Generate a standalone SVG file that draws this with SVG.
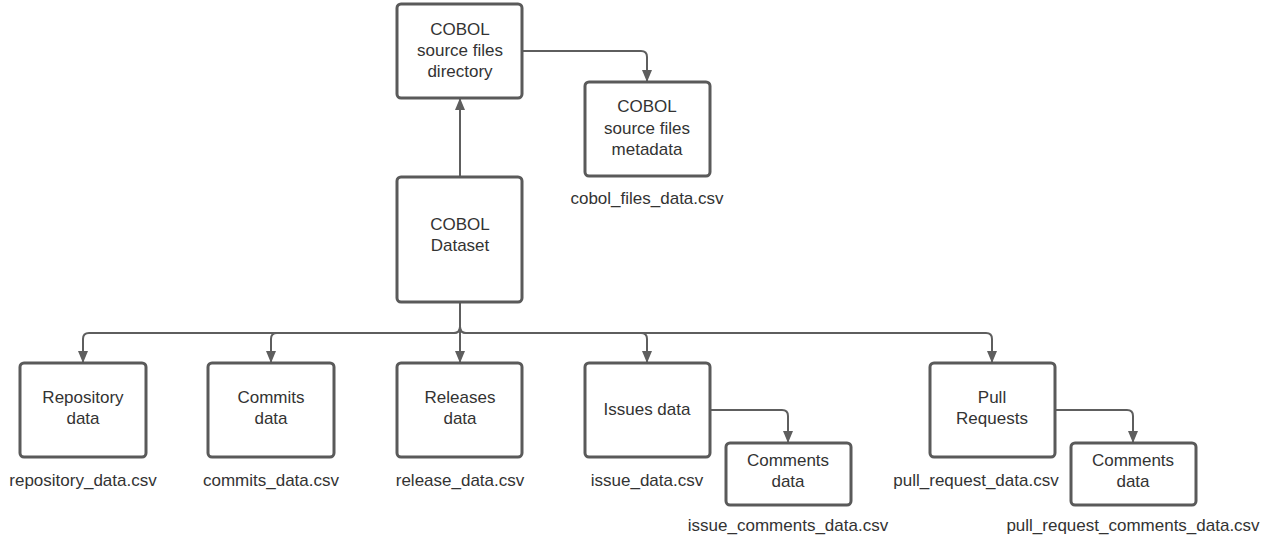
<svg xmlns="http://www.w3.org/2000/svg" width="1278" height="539" viewBox="0 0 1278 539">
<defs>
<style>
.box{fill:#ffffff;stroke:#5a5a5a;stroke-width:3}
.edge{fill:none;stroke:#5e5e5e;stroke-width:2}
text{font-family:"Liberation Sans",Arial,sans-serif;font-size:17px;fill:#333333;text-anchor:middle}
</style>
<marker id="arr" viewBox="0 0 12 12" refX="11" refY="6" markerWidth="12" markerHeight="12" markerUnits="userSpaceOnUse" orient="auto">
<path d="M0 1 L12 6 L0 11 Z" fill="#5e5e5e"/>
</marker>
</defs>
<rect width="1278" height="539" fill="#ffffff"/>
<g id="connectors">
<path class="edge" d="M460 177 V99" marker-end="url(#arr)"/>
<path class="edge" d="M523 51 H641 Q647 51 647 57 V81" marker-end="url(#arr)"/>
<path class="edge" d="M460 302 V327 Q460 333 454 333 H89 Q83 333 83 339 V362" marker-end="url(#arr)"/>
<path class="edge" d="M460 302 V327 Q460 333 454 333 H277 Q271 333 271 339 V362" marker-end="url(#arr)"/>
<path class="edge" d="M460 302 V362" marker-end="url(#arr)"/>
<path class="edge" d="M460 302 V327 Q460 333 466 333 H641 Q647 333 647 339 V362" marker-end="url(#arr)"/>
<path class="edge" d="M460 302 V327 Q460 333 466 333 H986 Q992 333 992 339 V362" marker-end="url(#arr)"/>
<path class="edge" d="M711 410 H782 Q788 410 788 416 V442" marker-end="url(#arr)"/>
<path class="edge" d="M1056 410 H1127 Q1133 410 1133 416 V442" marker-end="url(#arr)"/>
</g>
<g id="node-directory">
<rect class="box" x="397" y="4" width="125" height="94" rx="4"/>
<text x="460" y="35">COBOL</text>
<text x="460" y="56">source files</text>
<text x="460" y="77">directory</text>
</g>
<g id="node-metadata">
<rect class="box" x="585" y="82" width="125" height="94" rx="4"/>
<text x="647" y="112">COBOL</text>
<text x="647" y="134">source files</text>
<text x="647" y="155">metadata</text>
<text x="647" y="204">cobol_files_data.csv</text>
</g>
<g id="node-dataset">
<rect class="box" x="397" y="177" width="125" height="125" rx="4"/>
<text x="460" y="230">COBOL</text>
<text x="460" y="251">Dataset</text>
</g>
<g id="node-repository">
<rect class="box" x="20" y="363" width="126" height="94" rx="4"/>
<text x="83" y="403">Repository</text>
<text x="83" y="424">data</text>
<text x="83" y="486">repository_data.csv</text>
</g>
<g id="node-commits">
<rect class="box" x="208" y="363" width="126" height="94" rx="4"/>
<text x="271" y="403">Commits</text>
<text x="271" y="424">data</text>
<text x="271" y="486">commits_data.csv</text>
</g>
<g id="node-releases">
<rect class="box" x="397" y="363" width="125" height="94" rx="4"/>
<text x="460" y="403">Releases</text>
<text x="460" y="424">data</text>
<text x="460" y="486">release_data.csv</text>
</g>
<g id="node-issues">
<rect class="box" x="585" y="363" width="125" height="94" rx="4"/>
<text x="647" y="415">Issues data</text>
<text x="647" y="486">issue_data.csv</text>
</g>
<g id="node-issue-comments">
<rect class="box" x="726" y="443" width="125" height="62" rx="4"/>
<text x="788" y="466">Comments</text>
<text x="788" y="487">data</text>
<text x="788" y="531">issue_comments_data.csv</text>
</g>
<g id="node-pull-requests">
<rect class="box" x="930" y="363" width="125" height="94" rx="4"/>
<text x="992" y="403">Pull</text>
<text x="992" y="424">Requests</text>
<text x="976" y="486">pull_request_data.csv</text>
</g>
<g id="node-pr-comments">
<rect class="box" x="1071" y="443" width="125" height="62" rx="4"/>
<text x="1133" y="466">Comments</text>
<text x="1133" y="487">data</text>
<text x="1133" y="531">pull_request_comments_data.csv</text>
</g>
</svg>
